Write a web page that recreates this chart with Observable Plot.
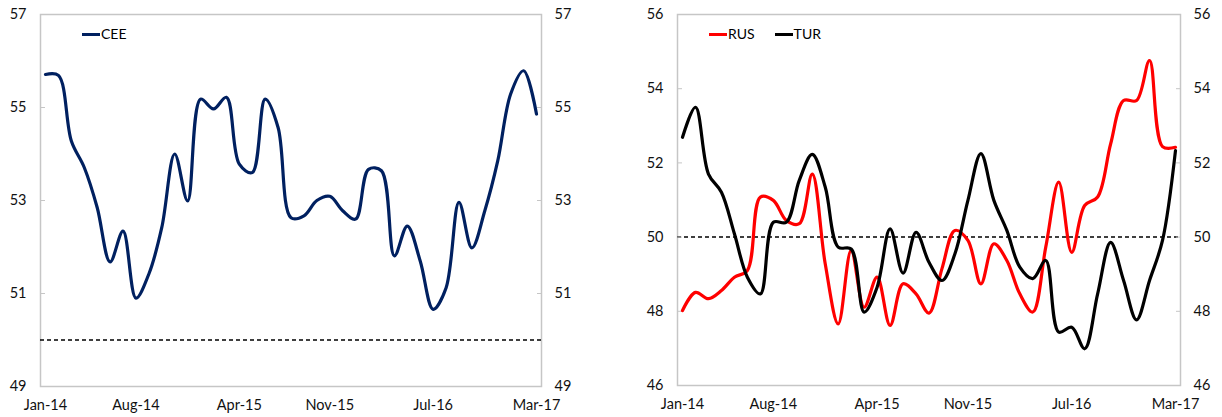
<!DOCTYPE html>
<html><head><meta charset="utf-8">
<script src="https://cdn.jsdelivr.net/npm/d3@7"></script>
<script src="https://cdn.jsdelivr.net/npm/@observablehq/plot@0.6"></script>
<style>
body{margin:0;background:#fff;font-family:Lato,"Open Sans",sans-serif;}
#row{display:flex;width:1222px;height:417px;overflow:hidden;}
.panel{position:relative;width:611px;height:417px;}
.legend{position:absolute;top:25px;display:flex;align-items:center;font-size:14px;color:#000;line-height:18px;}
.item{display:flex;align-items:center;margin-right:20px}
.sw{display:inline-block;width:18px;height:3px;margin-right:1px}
</style></head><body>
<div id="row"><div class="panel" id="left"></div><div class="panel" id="right"></div></div>
<script>
const months = ["Jan-14","Feb-14","Mar-14","Apr-14","May-14","Jun-14","Jul-14","Aug-14","Sep-14","Oct-14","Nov-14","Dec-14",
  "Jan-15","Feb-15","Mar-15","Apr-15","May-15","Jun-15","Jul-15","Aug-15","Sep-15","Oct-15","Nov-15","Dec-15",
  "Jan-16","Feb-16","Mar-16","Apr-16","May-16","Jun-16","Jul-16","Aug-16","Sep-16","Oct-16","Nov-16","Dec-16",
  "Jan-17","Feb-17","Mar-17"];
const xTickLabels = ["Jan-14","Aug-14","Apr-15","Nov-15","Jul-16","Mar-17"];

const cee = [55.71,55.69,54.28,53.71,52.85,51.68,52.34,50.90,51.42,52.42,54.00,52.99,
  55.18,54.97,55.22,53.78,53.60,55.18,54.57,52.63,52.67,53.00,53.09,52.78,
  52.60,53.67,53.64,51.81,52.45,51.70,50.66,51.12,52.96,51.98,52.78,53.85,
  55.29,55.79,54.86];
const rus = [48.02,48.51,48.34,48.56,48.92,49.10,51.08,50.99,50.45,50.36,51.70,49.28,
  47.66,49.64,48.11,48.92,47.62,48.74,48.47,47.95,49.15,50.18,49.91,48.74,
  49.82,49.37,48.47,47.98,49.73,51.48,49.59,50.85,51.08,52.51,53.68,53.68,
  54.76,52.44,52.42];
const tur = [52.69,53.50,51.70,51.21,50.09,48.92,48.47,50.40,50.40,51.53,52.23,51.35,
  49.73,49.68,47.98,48.65,50.22,49.03,50.13,49.32,48.83,49.55,50.99,52.25,
  50.99,50.18,49.19,48.88,49.37,47.44,47.57,46.99,48.47,49.86,48.83,47.77,
  48.83,49.91,52.33];

const leftTicks = [49,51,53,55,57];
const rightTicks = [46,48,50,52,54,56];
const refLevel = 50;

const xTickIdx = xTickLabels.map(t => months.indexOf(t));
const gridGray = "#c6c6c6";
const textColor = "#111";

function makePanel({series, colors, yDomain, yTicks, m}) {
  const rows = series.flatMap(s => s.values.map((v, i) => ({i, v, name: s.name})));
  return Plot.plot({
    width: 611, height: 417,
    marginLeft: m.left, marginRight: m.right, marginTop: m.top, marginBottom: m.bottom,
    x: {type: "linear", domain: [-0.387, 38.387]},
    y: {domain: yDomain},
    color: {domain: series.map(s => s.name), range: colors},
    style: {fontFamily: "Lato, 'Open Sans', sans-serif", fontSize: "14.5px", background: "white", color: textColor},
    marks: [
      Plot.frame({stroke: gridGray, strokeWidth: 1.5}),
      Plot.ruleY([refLevel], {stroke: "#000", strokeWidth: 1.5, strokeDasharray: "4,3"}),
      Plot.axisY(yTicks, {anchor: "left", tickSize: 5, insetLeft: 5, stroke: gridGray, fill: "none", label: null}),
      Plot.axisY(yTicks, {anchor: "right", tickSize: 5, insetRight: 5, stroke: gridGray, fill: "none", label: null}),
      Plot.axisY(yTicks, {anchor: "left", tickSize: 0, tickPadding: 14, fill: textColor, label: null}),
      Plot.axisY(yTicks, {anchor: "right", tickSize: 0, tickPadding: 13, fill: textColor, label: null}),
      Plot.axisX(xTickIdx, {anchor: "bottom", tickSize: 0, tickPadding: 13, tickFormat: i => months[i], fill: textColor, label: null}),
      Plot.line(rows, {x: "i", y: "v", z: "name", stroke: "name", strokeWidth: 3.2, curve: "catmull-rom"})
    ]
  });
}

function legend(container, items, left) {
  const div = document.createElement("div");
  div.className = "legend";
  div.style.left = left + "px";
  for (const it of items) {
    const s = document.createElement("span");
    s.className = "item";
    s.innerHTML = `<span class="sw" style="background:${it.color}"></span>${it.name}`;
    div.appendChild(s);
  }
  container.appendChild(div);
}

const leftEl = document.getElementById("left");
leftEl.appendChild(makePanel({
  series: [{name: "CEE", values: cee}], colors: ["#002060"],
  yDomain: [49, 57], yTicks: leftTicks,
  m: {left: 40, right: 70, top: 14, bottom: 31}
}));
legend(leftEl, [{name: "CEE", color: "#002060"}], 82);

const rightEl = document.getElementById("right");
rightEl.appendChild(makePanel({
  series: [{name: "RUS", values: rus}, {name: "TUR", values: tur}], colors: ["#ff0000", "#000000"],
  yDomain: [46, 56], yTicks: rightTicks,
  m: {left: 66, right: 42, top: 14, bottom: 32}
}));
legend(rightEl, [{name: "RUS", color: "#ff0000"}, {name: "TUR", color: "#000000"}], 98);
</script>
</body></html>
